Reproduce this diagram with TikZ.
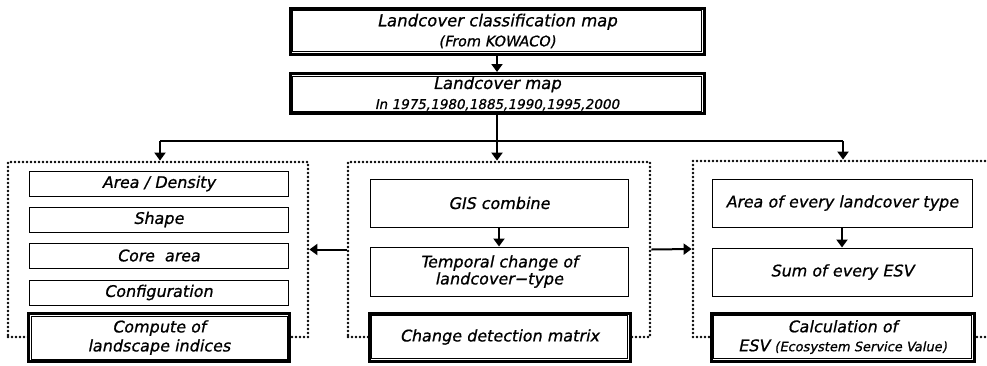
\documentclass[tikz,border=0pt]{standalone}
\usepackage{fontspec}
\setmainfont{DejaVu Sans}
\newfontfamily\gfont{DejaVu Sans}[FakeSlant=0.2, FakeBold=0.9]
\usetikzlibrary{arrows.meta}
\tikzset{
  dbox/.style={draw, line width=3pt, fill=white, align=center, inner sep=0pt},
  sbox/.style={draw, line width=1pt, fill=white, align=center, inner sep=0pt},
  dotbox/.style={draw, line width=2.8pt, dash pattern=on 0pt off 4pt, line cap=round, inner sep=0pt},
  arr/.style={line width=2pt, -{Triangle[length=8pt,width=11pt]}},
  conn/.style={line width=2pt},
  ftop/.style={font=\gfont\fontsize{16.5}{20}\selectfont},
  fbody/.style={font=\gfont\fontsize{16}{19}\selectfont},
  ftight/.style={font=\gfont\fontsize{16}{17}\selectfont},
}
\newcommand{\fs}[1]{\fontsize{#1}{#1}\selectfont}
\newcommand{\innerframe}[1]{\draw[line width=1pt] ([shift={(4pt,4pt)}]#1.south west) rectangle ([shift={(-4pt,-4pt)}]#1.north east);}
\begin{document}
\begin{tikzpicture}[x=1pt,y=-1pt]
\useasboundingbox (0,0) rectangle (987,365);
\clip (0,0) rectangle (987,365);
% dotted groups
\node[dotbox, minimum width=300pt, minimum height=175pt] (leftbox) at (158,249.5) {};
\node[dotbox, minimum width=302pt, minimum height=175pt] (midbox) at (499,249.5) {};
\node[dotbox, minimum width=310pt, minimum height=176pt] (rightbox) at (848,249) {};
% top boxes
\node[dbox, ftop, minimum width=414pt, minimum height=46pt] (b1) at (497,31) {Landcover classification map\\{\fs{14.5}(From KOWACO)}};
\innerframe{b1}
\node[dbox, ftop, minimum width=414pt, minimum height=40pt] (b2) at (497,93.5) {Landcover map\\{\fs{13.5}In 1975,1980,1885,1990,1995,2000}};
\innerframe{b2}
\draw[arr] (b1.south) -- (b2.north);
% junctions
\coordinate (jc) at (497,141);
\coordinate (jl) at (160,141);
\coordinate (jr) at (843,141);
\draw[conn] (b2.south) -- (jc);
\draw[conn] (jl) -- (jr);
\draw[arr] (jl) -- (jl |- leftbox.north);
\draw[arr] (jc) -- (jc |- midbox.north);
\draw[arr] (jr) -- (jr |- rightbox.north);
% left group
\node[sbox, fbody, minimum width=259pt, minimum height=25pt] (ad) at (158.5,183.5) {Area / Density};
\node[sbox, fbody, minimum width=259pt, minimum height=25pt] (sh) at (158.5,219.5) {Shape};
\node[sbox, fbody, minimum width=259pt, minimum height=25pt] (ca) at (158.5,255.5) {Core\ \ area};
\node[sbox, fbody, minimum width=259pt, minimum height=25pt] (cf) at (158.5,292.5) {Configuration};
\node[dbox, fbody, minimum width=261pt, minimum height=48pt] (cl) at (159,337.5) {Compute of\\landscape indices};
\innerframe{cl}
% middle group
\node[sbox, fbody, minimum width=258pt, minimum height=48pt] (gis) at (499,203) {GIS combine};
\node[sbox, ftight, minimum width=258pt, minimum height=49pt] (tc) at (499,271.5) {Temporal change of\\landcover−type};
\node[dbox, fbody, minimum width=261pt, minimum height=48pt] (cd) at (499.5,337) {Change detection matrix};
\innerframe{cd}
\draw[arr] (gis.south) -- (tc.north);
% right group
\node[sbox, fbody, minimum width=260pt, minimum height=48pt] (al) at (842,203) {Area of every landcover type};
\node[sbox, fbody, minimum width=260pt, minimum height=48pt] (se) at (842,272) {Sum of every ESV};
\node[dbox, fbody, minimum width=263pt, minimum height=48pt] (ce) at (842.5,337) {Calculation of\\ESV {\fs{13}(Ecosystem Service Value)}};
\innerframe{ce}
\draw[arr] (al.south) -- (se.north);
% side arrows
\draw[arr] (midbox.west) -- (leftbox.east);
\draw[arr] (midbox.east) -- (rightbox.west);
\end{tikzpicture}
\end{document}
